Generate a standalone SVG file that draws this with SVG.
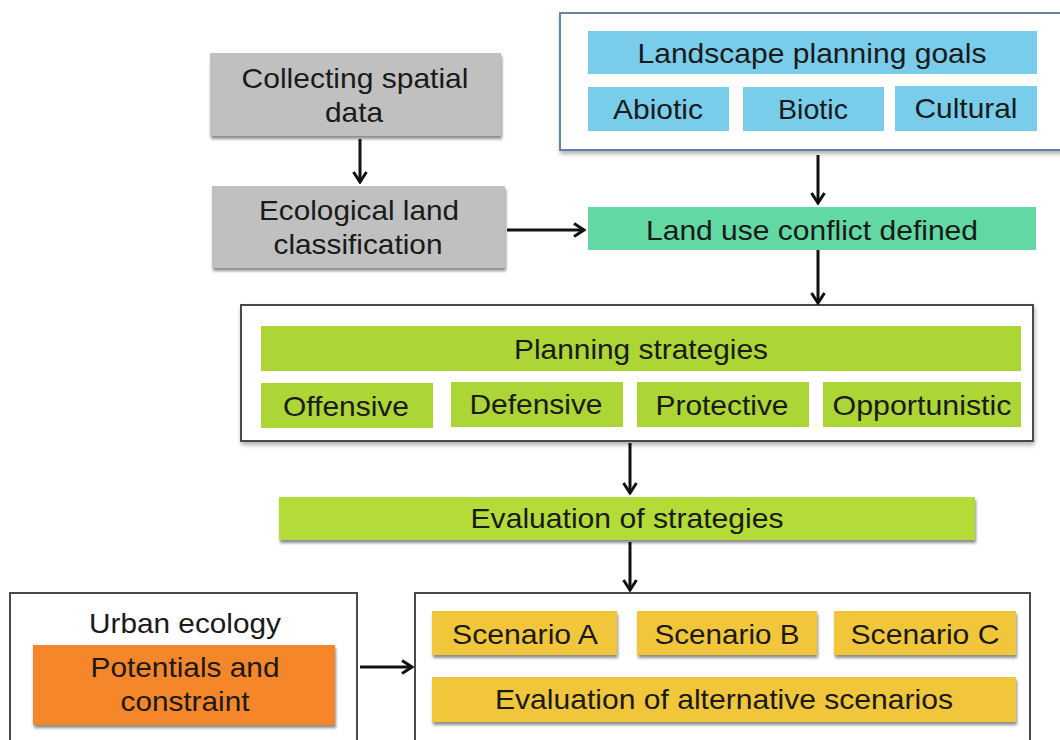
<svg xmlns="http://www.w3.org/2000/svg" width="1060" height="740" viewBox="0 0 1060 740">
<defs>
<filter id="sh" x="-5%" y="-20%" width="110%" height="150%">
<feDropShadow dx="1" dy="3" stdDeviation="1.5" flood-color="#000" flood-opacity="0.45"/>
</filter>
<filter id="sh2" x="-5%" y="-10%" width="110%" height="130%">
<feDropShadow dx="1" dy="3" stdDeviation="2" flood-color="#000" flood-opacity="0.3"/>
</filter>
<marker id="ah" viewBox="0 0 14 16" refX="12" refY="8" markerWidth="14" markerHeight="16" markerUnits="userSpaceOnUse" orient="auto">
<path d="M2,1.5 L12,8 L2,14.5" fill="none" stroke="#111" stroke-width="3"/>
</marker>
</defs>
<style>
text{font-family:"Liberation Sans",Arial,sans-serif;font-size:28px;fill:#1a1a1a;text-anchor:middle;dominant-baseline:central}
.gray{fill:#c0c0c0}
.blue{fill:#79cdea}
.teal{fill:#62d8a2}
.lime{fill:#acd536}
.yel{fill:#f2c63a}
.org{fill:#f6862a}
.cont{fill:#fff;stroke:#4a4a4a;stroke-width:2}
.contb{fill:#fff;stroke:#6283a8;stroke-width:2}
.conn line{stroke:#111;stroke-width:3;marker-end:url(#ah)}
</style>
<rect width="1060" height="740" fill="#fff"/>

<g id="collecting">
<rect class="gray" x="210" y="53" width="291" height="83" filter="url(#sh)"/>
<text x="355" y="78" textLength="227" lengthAdjust="spacingAndGlyphs">Collecting spatial</text>
<text x="354" y="112" textLength="58" lengthAdjust="spacingAndGlyphs">data</text>
</g>
<g id="ecological">
<rect class="gray" x="212" y="186" width="293" height="82" filter="url(#sh)"/>
<text x="359" y="210" textLength="200" lengthAdjust="spacingAndGlyphs">Ecological land</text>
<text x="358" y="244" textLength="169" lengthAdjust="spacingAndGlyphs">classification</text>
</g>

<g id="goals">
<rect class="contb" x="560" y="13" width="510" height="137" filter="url(#sh2)"/>
<rect class="blue" x="588" y="31" width="449" height="43"/>
<text x="812" y="53" textLength="349" lengthAdjust="spacingAndGlyphs">Landscape planning goals</text>
<rect class="blue" x="588" y="87" width="141" height="44"/>
<text x="658" y="109" textLength="90" lengthAdjust="spacingAndGlyphs">Abiotic</text>
<rect class="blue" x="743" y="87" width="141" height="44"/>
<text x="813" y="109" textLength="70" lengthAdjust="spacingAndGlyphs">Biotic</text>
<rect class="blue" x="895" y="86" width="142" height="45"/>
<text x="966" y="108" textLength="103" lengthAdjust="spacingAndGlyphs">Cultural</text>
</g>

<g id="conflict">
<rect class="teal" x="588" y="207" width="448" height="43"/>
<text x="812" y="230" textLength="332" lengthAdjust="spacingAndGlyphs">Land use conflict defined</text>
</g>

<g id="strategies">
<rect class="cont" x="241" y="305" width="792" height="136" filter="url(#sh2)"/>
<rect class="lime" x="261" y="326" width="760" height="45"/>
<text x="641" y="349" textLength="254" lengthAdjust="spacingAndGlyphs">Planning strategies</text>
<rect class="lime" x="261" y="383" width="172" height="45"/>
<text x="346" y="406" textLength="126" lengthAdjust="spacingAndGlyphs">Offensive</text>
<rect class="lime" x="451" y="382" width="172" height="45"/>
<text x="536" y="404" textLength="133" lengthAdjust="spacingAndGlyphs">Defensive</text>
<rect class="lime" x="637" y="382" width="172" height="45"/>
<text x="722" y="405" textLength="133" lengthAdjust="spacingAndGlyphs">Protective</text>
<rect class="lime" x="823" y="382" width="198" height="45"/>
<text x="922" y="405" textLength="179" lengthAdjust="spacingAndGlyphs">Opportunistic</text>
</g>

<g id="evalstrat">
<rect class="lime" x="279" y="497" width="696" height="43" filter="url(#sh)" style="fill:#b3dc38"/>
<text x="627" y="518" textLength="313" lengthAdjust="spacingAndGlyphs">Evaluation of strategies</text>
</g>

<g id="urban">
<rect class="cont" x="10" y="593" width="347" height="160"/>
<text x="185" y="623" textLength="192" lengthAdjust="spacingAndGlyphs">Urban ecology</text>
<rect class="org" x="33" y="645" width="302" height="80" filter="url(#sh)"/>
<text x="185" y="667" textLength="189" lengthAdjust="spacingAndGlyphs">Potentials and</text>
<text x="185" y="701" textLength="129" lengthAdjust="spacingAndGlyphs">constraint</text>
</g>

<g id="scenarios">
<rect class="cont" x="415" y="593" width="615" height="160"/>
<rect class="yel" x="432" y="611" width="185" height="44" filter="url(#sh)"/>
<text x="525" y="634" textLength="146" lengthAdjust="spacingAndGlyphs">Scenario A</text>
<rect class="yel" x="637" y="611" width="180" height="44" filter="url(#sh)"/>
<text x="727" y="634" textLength="145" lengthAdjust="spacingAndGlyphs">Scenario B</text>
<rect class="yel" x="834" y="611" width="182" height="44" filter="url(#sh)"/>
<text x="925" y="634" textLength="149" lengthAdjust="spacingAndGlyphs">Scenario C</text>
<rect class="yel" x="432" y="677" width="584" height="45" filter="url(#sh)"/>
<text x="724" y="699" textLength="458" lengthAdjust="spacingAndGlyphs">Evaluation of alternative scenarios</text>
</g>

<g id="connectors" class="conn">
<line x1="360" y1="139" x2="360" y2="182"/>
<line x1="507" y1="230" x2="584" y2="230"/>
<line x1="818" y1="155" x2="818" y2="203"/>
<line x1="818" y1="250" x2="818" y2="303"/>
<line x1="630" y1="443" x2="630" y2="493"/>
<line x1="630" y1="542" x2="630" y2="590"/>
<line x1="360" y1="667" x2="412" y2="667"/>
</g>
</svg>
